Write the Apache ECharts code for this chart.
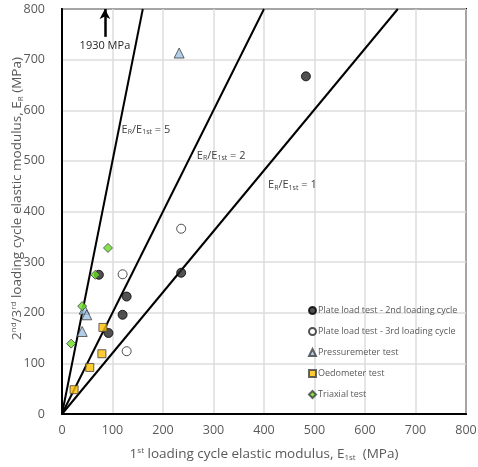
<!DOCTYPE html>
<html><head><meta charset="utf-8">
<script src="https://cdn.jsdelivr.net/npm/echarts@6/dist/echarts.min.js"></script>
<style>html,body{margin:0;padding:0;background:#fff}#c{width:478px;height:467px}</style>
</head><body><div id="c"></div>
<script>
// Data (MPa): [E1st, ER]
const plate2nd = [[73,275],[128,232],[120,196],[92,160],[236,279],[483,667]];
const plate3rd = [[120,276],[128,124],[236,366]];
const pressuremeter = [[44,207],[49,196],[40,163],[232,713]];
const oedometer = [[81,171],[79,119],[55,92],[24,48]];
const triaxial = [[91,328],[66,275],[40,213],[18,139]];
// Reference ratio lines as drawn
const line5 = [[0,0],[160,800]];
const line2 = [[0,0],[400,800]];
const line1 = [[0,0],[665,800]];
const xTicks = [0,100,200,300,400,500,600,700,800];
const yTicks = [0,100,200,300,400,500,600,700,800];
// Annotation anchors (data coords)
const arrow1930 = [[85,745],[85,800]];
const label1930 = [85,727];
const labelR5 = [118,562];
const labelR2 = [267,510];
const labelR1 = [408,452];

const FONT = 'Open Sans';
const grey = '#595959';
const ratioRich = {
  n:{fontSize:11,color:'#404040',fontFamily:FONT},
  s:{fontSize:7,color:'#404040',fontFamily:FONT,padding:[5,0,0,0]}
};
function ratioLabel(k){return '{n|E}{s|R}{n|/E}{s|1st}{n| = '+k+'}';}

const chart = echarts.init(document.getElementById('c'));
const refStyle = {color:'#000',width:2};
function refSeries(data, lbl, k){
  return {type:'line',data:data,symbol:'none',lineStyle:refStyle,silent:true,z:3,
    markPoint:{symbol:'circle',symbolSize:0,silent:true,
      data:[{coord:lbl,label:{show:true,position:'right',distance:0,formatter:ratioLabel(k),rich:ratioRich}}]}};
}
function sc(name,data,symbol,size,color,border){
  return {name:name,type:'scatter',data:data,symbol:symbol,symbolSize:size,z:5,
    itemStyle:{color:color,borderColor:border,borderWidth:1}};
}
chart.setOption({
  animation:false,
  grid:{left:62,right:12,top:9,bottom:53,show:true,borderColor:'#000',borderWidth:2,containLabel:false,outerBoundsMode:'none'},
  xAxis:{type:'value',min:0,max:800,interval:100,nameMoveOverlap:false,
    axisLine:{lineStyle:{color:'#000',width:2}},axisTick:{show:false},
    splitLine:{lineStyle:{color:'#dcdcdc',width:1.5}},
    axisLabel:{color:grey,fontSize:12.5,fontFamily:FONT,margin:10,
      formatter:v=>xTicks.includes(v)?String(v):''},
    name:'{n|1}{p|st}{n| loading cycle elastic modulus, E}{b|1st}{n|  (MPa)}',
    nameLocation:'middle',nameGap:33,
    nameTextStyle:{rich:{
      n:{fontSize:13.5,color:grey,fontFamily:FONT},
      p:{fontSize:8,color:grey,fontFamily:FONT,padding:[0,0,7,0]},
      b:{fontSize:8,color:grey,fontFamily:FONT,padding:[6,0,0,0]}}}},
  yAxis:{type:'value',min:0,max:800,interval:100,nameMoveOverlap:false,
    axisLine:{lineStyle:{color:'#000',width:2}},axisTick:{show:false},
    splitLine:{lineStyle:{color:'#dcdcdc',width:1.5}},
    axisLabel:{color:grey,fontSize:12.5,fontFamily:FONT,margin:17,
      formatter:v=>yTicks.includes(v)?String(v):''},
    name:'{n|2}{p|nd}{n|/3}{p|rd}{n| loading cycle elastic modulus, E}{b|R}{n| (MPa)}',
    nameLocation:'middle',nameGap:37,
    nameTextStyle:{padding:[0,0,0,26],rich:{
      n:{fontSize:13.5,color:grey,fontFamily:FONT},
      p:{fontSize:8,color:grey,fontFamily:FONT,padding:[0,0,7,0]},
      b:{fontSize:8,color:grey,fontFamily:FONT,padding:[6,0,0,0]}}}},
  legend:{orient:'vertical',left:303,top:301,itemWidth:7,itemHeight:7,itemGap:12,
    textStyle:{fontSize:9,color:grey,fontFamily:FONT,padding:[0,0,0,-3]},
    data:['Plate load test - 2nd loading cycle','Plate load test - 3rd loading cycle','Pressuremeter test','Oedometer test','Triaxial test']},
  series:[
    refSeries(line5,labelR5,5),
    refSeries(line2,labelR2,2),
    refSeries(line1,labelR1,1),
    {type:'line',data:[],silent:true,
      markLine:{silent:true,symbol:['none','arrow'],symbolSize:[8,10],
        lineStyle:{color:'#000',width:2.5,type:'solid'},label:{show:false},
        data:[[{coord:arrow1930[0]},{coord:arrow1930[1]}]]},
      markPoint:{symbol:'circle',symbolSize:0,silent:true,
        data:[{coord:label1930,label:{show:true,position:'inside',formatter:'1930 MPa',fontSize:11,color:'#262626',fontFamily:FONT}}]}},
    sc('Plate load test - 2nd loading cycle',plate2nd,'circle',9,'#262626','#000'),
    sc('Plate load test - 3rd loading cycle',plate3rd,'circle',9,'#ffffff','#262626'),
    sc('Pressuremeter test',pressuremeter,'triangle',10,'#9dc3e6','#404040'),
    sc('Oedometer test',oedometer,'rect',8,'#ffc000','#404040'),
    sc('Triaxial test',triaxial,'diamond',9,'#66dd22','#404040')
  ]
});
</script></body></html>
